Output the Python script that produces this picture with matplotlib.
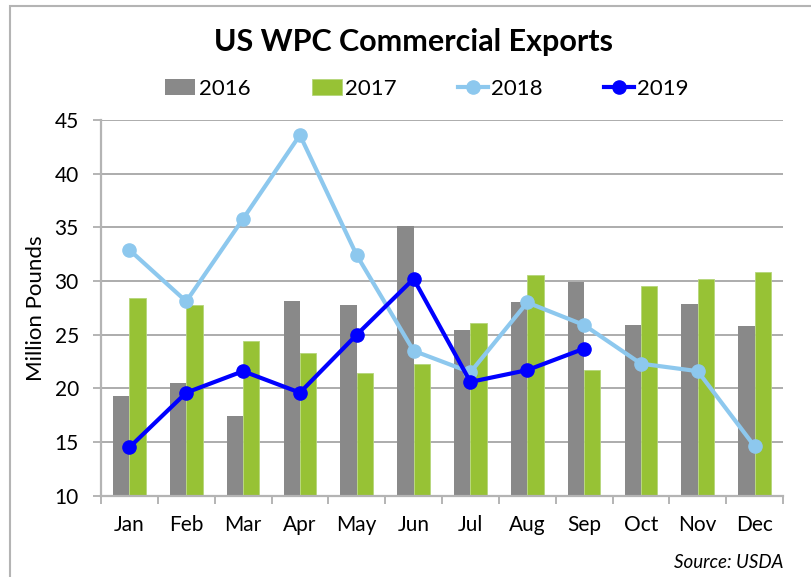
import matplotlib
matplotlib.use("Agg")
import matplotlib.pyplot as plt
from matplotlib.patches import Rectangle
import numpy as np

plt.rcParams['font.family'] = ['Lato', 'DejaVu Sans']

months = ["Jan", "Feb", "Mar", "Apr", "May", "Jun", "Jul", "Aug", "Sep", "Oct", "Nov", "Dec"]
y2016 = [19.3, 20.5, 17.4, 28.1, 27.8, 35.1, 25.4, 28.0, 29.9, 25.9, 27.9, 25.8]
y2017 = [28.4, 27.8, 24.4, 23.3, 21.4, 22.3, 26.1, 30.6, 21.7, 29.5, 30.2, 30.8]
y2018 = [32.9, 28.1, 35.8, 43.6, 32.4, 23.5, 21.5, 28.0, 25.9, 22.3, 21.6, 14.6]
y2019 = [14.5, 19.6, 21.6, 19.6, 25.0, 30.2, 20.6, 21.7, 23.7]

fig = plt.figure(figsize=(8.11, 5.77), dpi=100)
ax = fig.add_axes([101 / 811, 81.3 / 577, 682 / 811, 375.7 / 577])

x = np.arange(len(months))
w = 0.287
b16 = ax.bar(x - w / 2, y2016, w, color="#898989", label="2016", zorder=2)
b17 = ax.bar(x + w / 2, y2017, w, color="#97c235", edgecolor="#b5d67a", linewidth=0.6, label="2017", zorder=2)
l18, = ax.plot(x, y2018, color="#8dc8ee", lw=3, marker="o", ms=9.5, label="2018", zorder=3)
l19, = ax.plot(np.arange(len(y2019)), y2019, color="#0000ff", lw=3, marker="o", ms=9.5, label="2019", zorder=4)

ax.set_xlim(-0.5, 11.5)
ax.set_ylim(10, 45)
ax.set_yticks(range(10, 50, 5))
ax.set_xticks(x)
ax.set_xticklabels(months)
ax.set_xticks(np.arange(-0.5, 12, 1), minor=True)
ax.tick_params(axis="x", which="major", length=0, pad=14, labelsize=15)
ax.tick_params(axis="x", which="minor", length=6, width=1.4, color="#b4b4b4")
ax.tick_params(axis="y", length=6, width=1.4, color="#b4b4b4", pad=10, labelsize=15)

ax.grid(axis="y", color="#a6a6a6", lw=1.3, zorder=0)
ax.set_axisbelow(True)
for s in ["top", "right"]:
    ax.spines[s].set_visible(False)
for s in ["left", "bottom"]:
    ax.spines[s].set_color("#b4b4b4")
    ax.spines[s].set_linewidth(1.6)

ax.set_ylabel("Million Pounds", fontsize=16, labelpad=6)

fig.text(413 / 811, 1 - 42 / 577, "US WPC Commercial Exports", fontsize=22, fontweight="bold",
         ha="center", va="center")
ax.legend([b16, b17, l18, l19], ["2016", "2017", "2018", "2019"], loc="center",
          bbox_to_anchor=(427 / 811, 1 - 89 / 577), bbox_transform=fig.transFigure,
          ncol=4, frameon=False, fontsize=16, handlelength=1.35, handletextpad=0.15,
          columnspacing=2.75, borderpad=0)
fig.text(783 / 811, 1 - 562 / 577, "Source: USDA", fontsize=13.5, style="italic", ha="right", va="center")

fig.patches.append(Rectangle((10 / 811, -0.1), 1.2, 1.1 - 5.5 / 577, transform=fig.transFigure,
                             fill=False, edgecolor="#b4b4b4", lw=1.5, clip_on=False))

fig.savefig("out.png", dpi=100)
